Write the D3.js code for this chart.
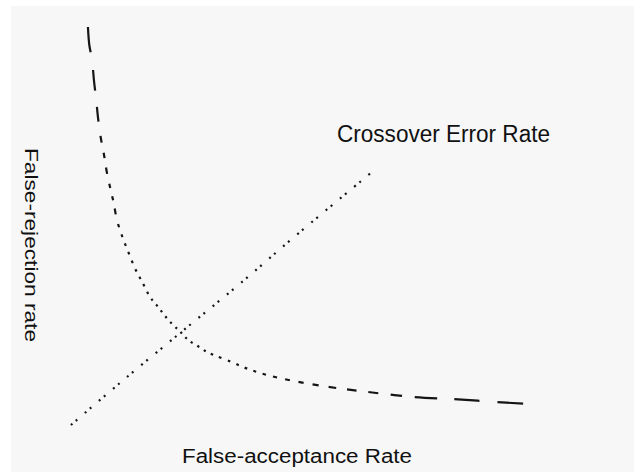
<!DOCTYPE html>
<html>
<head>
<meta charset="utf-8">
<script src="https://cdn.jsdelivr.net/npm/d3@7"></script>
<style>
  html, body { margin: 0; padding: 0; background: #ffffff; }
  svg { display: block; }
  text { font-family: "Liberation Sans", Arial, sans-serif; fill: #111; }
</style>
</head>
<body>
<svg id="chart" width="634" height="473"></svg>
<script>
// ---- data ----
// False-rejection rate curve (x = false-acceptance, y = false-rejection), arbitrary 0..100 units
const frrX = [3.9, 4.2, 4.8, 5.2, 5.7, 6.1, 6.7, 7.4, 8.0, 8.7, 9.5, 10.2, 11.4, 12.5, 14.1, 15.8, 17.4, 19.2, 21.4, 24.1, 25.9, 27.5, 29.3, 31.5, 34.1, 38.4, 42.8, 49.3, 55.4, 63.4, 74.3, 85.2, 91.3, 99.6];
const frrY = [100.75, 96.25, 92.5, 87.5, 82.5, 78, 73, 68.75, 64.5, 60.75, 56.75, 52.5, 48.25, 45, 40.5, 36.75, 33.25, 30.7, 27.5, 24.4, 22.3, 21.2, 19.8, 18.6, 17.5, 15.4, 13.75, 12.1, 10.9, 9.7, 8.3, 7.6, 7.1, 6.5];
// Rising dotted line through the crossover point
const crossX = [0.2, 11.1, 24.1, 36.6, 49.8, 65.4];
const crossY = [1.25, 12, 24.4, 36.25, 49.3, 64.25];
// texts
const xLabel = "False-acceptance Rate";
const yLabel = "False-rejection rate";
const cerLabel = "Crossover Error Rate";

// ---- drawing ----
const svg = d3.select("#chart");
svg.append("rect").attr("x", 0).attr("y", 0).attr("width", 634).attr("height", 473).attr("fill", "#ffffff");
svg.append("rect").attr("x", 11).attr("y", 6).attr("width", 623).attr("height", 466).attr("fill", "#f7f7f7");

const x = d3.scaleLinear().domain([0, 100]).range([70, 530]);
const y = d3.scaleLinear().domain([0, 100]).range([430, 30]);

const line = d3.line().x(d => x(d[0])).y(d => y(d[1])).curve(d3.curveCatmullRom.alpha(0.5));

// crossing dotted line
const crossData = crossX.map((v, i) => [v, crossY[i]]);
svg.append("path")
  .attr("d", line(crossData))
  .attr("fill", "none")
  .attr("stroke", "#151515")
  .attr("stroke-width", 2.2)
  .attr("stroke-dasharray", "2,4.5,2,10");

// FRR curve with dash lengths varying with the local direction
const frrData = frrX.map((v, i) => [v, frrY[i]]);
const frrPath = svg.append("path")
  .attr("d", line(frrData))
  .attr("fill", "none")
  .attr("stroke", "#151515")
  .attr("stroke-width", 2.2);

const node = frrPath.node();
const L = node.getTotalLength();
function runAt(s) {
  const a = node.getPointAtLength(Math.max(0, s - 4));
  const b = node.getPointAtLength(Math.min(L, s + 4));
  const dx = Math.abs(b.x - a.x), dy = Math.abs(b.y - a.y);
  const r = Math.max(dx, dy) / Math.max(0.01, Math.min(dx, dy));
  return Math.min(r, 14);
}
let s = 0;
const dashes = [];
while (s < L) {
  const r = runAt(s);
  const d = 2 + 0.12 * r * r;
  const gp = 4 + r;
  dashes.push(d.toFixed(1), gp.toFixed(1));
  s += d + gp;
}
frrPath.attr("stroke-dasharray", dashes.join(" "));

// texts
svg.append("text")
  .attr("x", 337).attr("y", 142)
  .attr("font-size", 23)
  .attr("textLength", 213).attr("lengthAdjust", "spacingAndGlyphs")
  .text(cerLabel);

svg.append("text")
  .attr("x", 182).attr("y", 463)
  .attr("font-size", 20)
  .attr("textLength", 230).attr("lengthAdjust", "spacingAndGlyphs")
  .text(xLabel);

svg.append("text")
  .attr("transform", "translate(25,148) rotate(90)")
  .attr("font-size", 18)
  .attr("textLength", 194).attr("lengthAdjust", "spacingAndGlyphs")
  .text(yLabel);
</script>
</body>
</html>
